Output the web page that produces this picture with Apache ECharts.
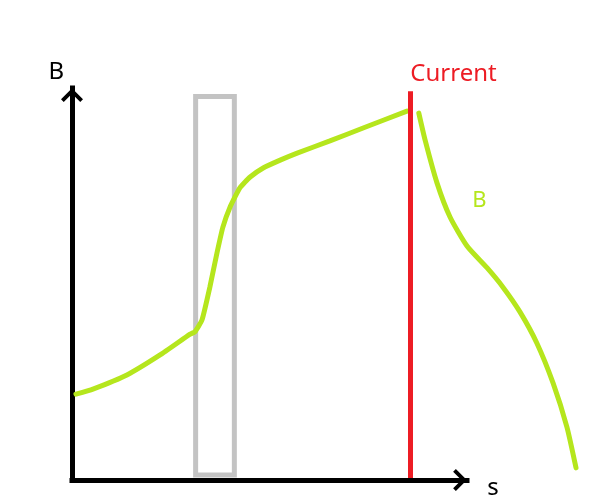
<!DOCTYPE html>
<html>
<head>
<meta charset="utf-8">
<script src="https://cdn.jsdelivr.net/npm/echarts@6/dist/echarts.min.js"></script>
<style>html,body{margin:0;padding:0;background:#fff}#c{width:592px;height:504px}</style>
</head>
<body>
<div id="c"></div>
<script>
// B before "Current" (s, B)
const beforeS = [1.0, 5.3, 13.9, 22.3, 29.9, 31.1, 32.9, 34.9, 36.7, 38.2, 40.0, 42.5, 45.1, 48.4, 52.7, 57.0, 65.3, 73.7, 84.8];
const beforeB = [21.9, 23.2, 26.8, 31.9, 37.2, 37.8, 40.8, 49.2, 57.9, 64.5, 69.6, 74.5, 77.3, 79.6, 81.6, 83.4, 86.5, 89.8, 94.1];
// B after "Current"
const afterS = [87.8, 89.4, 92.4, 95.7, 100.0, 105.1, 109.1, 113.4, 117.7, 121.8, 125.3, 127.6];
const afterB = [93.6, 86.7, 75.8, 67.1, 59.7, 54.1, 49.2, 42.9, 34.9, 24.7, 13.5, 3.1];
// highlighted window (s range, B range)
const windowS = [31.3, 41.1];
const windowB = [1.3, 97.8];
// current position
const currentS = 85.6;
const currentB = [0.5, 99.2];
const axisNames = ['s', 'B'];
const labels = ['Current', 'B'];

const GREEN = '#b5e61d', RED = '#ed1c24', GRAY = '#c3c3c3';
const FONT = '"Noto Sans", "DejaVu Sans", sans-serif';
const chevron = 'path://M12 0 L24 12 L21 15 L12 6 L3 15 L0 12 Z';

const chart = echarts.init(document.getElementById('c'), null, {renderer: 'canvas'});
const hidden = {type: 'value', show: false, splitLine: {show: false}};
const axisCommon = {
  type: 'value', min: 0, max: 100,
  splitLine: {show: false}, axisTick: {show: false}, axisLabel: {show: false},
  axisLine: {show: true, onZero: false, symbol: ['none', chevron], symbolSize: [22, 14], symbolOffset: [0, -7],
    lineStyle: {color: '#000', width: 5, cap: 'square'}}
};
chart.setOption({
  animation: false,
  grid: [
    {left: 72, top: 88, width: 395, height: 392},
    {left: 72, top: 88, width: 395 * 1.3, height: 392}
  ],
  xAxis: [
    Object.assign({}, axisCommon, {gridIndex: 0}),
    Object.assign({}, hidden, {gridIndex: 1, min: 0, max: 130})
  ],
  yAxis: [
    Object.assign({}, axisCommon, {gridIndex: 0, name: axisNames[1], nameLocation: 'end', nameGap: 4,
      nameTextStyle: {fontFamily: FONT, fontSize: 24, color: '#000', align: 'right', padding: [0, 8, 0, 0]}}),
    Object.assign({}, hidden, {gridIndex: 1, min: 0, max: 100})
  ],
  series: [
    {
      type: 'line', data: [], z: 1, xAxisIndex: 0, yAxisIndex: 0,
      markArea: {silent: true, itemStyle: {color: 'rgba(0,0,0,0)', borderColor: GRAY, borderWidth: 5},
        data: [[{coord: [windowS[0], windowB[0]]}, {coord: [windowS[1], windowB[1]]}]]},
      markLine: {silent: true, symbol: 'none', label: {show: false},
        lineStyle: {color: RED, width: 5, type: 'solid'},
        data: [[{coord: [currentS, currentB[0]]}, {coord: [currentS, currentB[1]]}]]}
    },
    {
      type: 'line', z: 3, xAxisIndex: 1, yAxisIndex: 1, showSymbol: false, smooth: 0.15,
      lineStyle: {color: GREEN, width: 5, cap: 'round'},
      data: beforeS.map((s, i) => [s, beforeB[i]])
    },
    {
      type: 'line', z: 3, xAxisIndex: 1, yAxisIndex: 1, showSymbol: false, smooth: 0.2,
      lineStyle: {color: GREEN, width: 5, cap: 'round'},
      data: afterS.map((s, i) => [s, afterB[i]])
    }
  ],
  graphic: [
    {type: 'text', x: 493, y: 488, style: {text: axisNames[0], fill: '#000', font: '24px ' + FONT, align: 'center', verticalAlign: 'middle'}},
    {type: 'text', x: 453.5, y: 74, style: {text: labels[0], fill: RED, font: '24px ' + FONT, align: 'center', verticalAlign: 'middle'}},
    {type: 'text', x: 479.5, y: 201, style: {text: labels[1], fill: GREEN, font: '22px ' + FONT, align: 'center', verticalAlign: 'middle'}}
  ]
});
</script>
</body>
</html>
